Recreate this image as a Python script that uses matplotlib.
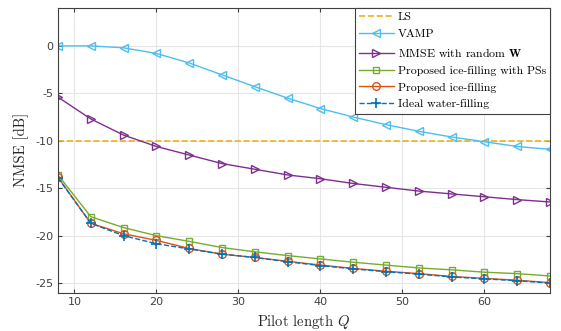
import matplotlib.pyplot as plt
import numpy as np

plt.rcParams['mathtext.fontset'] = 'cm'
plt.rcParams['axes.unicode_minus'] = False

# pilot lengths
Q = [8, 12, 16, 20, 24, 28, 32, 36, 40, 44, 48, 52, 56, 60, 64, 68]

ls_nmse = [-10.0] * len(Q)
vamp = [0.0, 0.0, -0.2, -0.8, -1.8, -3.05, -4.3, -5.5, -6.6, -7.5, -8.3,
        -9.0, -9.6, -10.1, -10.6, -10.9]
mmse_rand = [-5.4, -7.7, -9.4, -10.6, -11.5, -12.4, -13.0, -13.6, -14.0,
             -14.5, -14.9, -15.3, -15.6, -15.9, -16.2, -16.45]
ice_ps = [-13.6, -18.0, -19.15, -20.0, -20.6, -21.25, -21.7, -22.1, -22.45,
          -22.8, -23.1, -23.4, -23.6, -23.85, -24.0, -24.25]
ice = [-13.85, -18.7, -19.8, -20.5, -21.35, -21.95, -22.3, -22.7, -23.1,
       -23.45, -23.75, -24.0, -24.3, -24.5, -24.7, -24.95]
water = [-13.9, -18.7, -20.0, -20.85, -21.4, -21.95, -22.3, -22.75, -23.15,
         -23.5, -23.8, -24.05, -24.35, -24.55, -24.75, -25.0]

fig = plt.figure(figsize=(5.61, 3.31), dpi=100)
ax = fig.add_axes([0.1034, 0.116, 0.877, 0.86])

ax.plot(Q, ls_nmse, '--', color='#EDB120', lw=1.2, label='LS')
ax.plot(Q, vamp, '-', color='#4DBEEE', lw=1.0, marker='<', ms=5.5,
        mfc='none', mew=1.0, label='VAMP')
ax.plot(Q, mmse_rand, '-', color='#7E2F8E', lw=1.0, marker='>', ms=5.5,
        mfc='none', mew=1.0, label=r'MMSE with random $\mathbf{W}$')
ax.plot(Q, ice_ps, '-', color='#77AC30', lw=1.0, marker='s', ms=5,
        mfc='none', mew=1.0, label='Proposed ice-filling with PSs')
ax.plot(Q, ice, '-', color='#D95319', lw=1.0, marker='o', ms=5.5,
        mfc='none', mew=1.0, label='Proposed ice-filling')
ax.plot(Q, water, '--', color='#0072BD', lw=1.0, marker='+', ms=6.5,
        mew=1.2, label='Ideal water-filling')

ax.set_xlim(8, 68)
ax.set_ylim(-26, 4)
ax.set_xticks([10, 20, 30, 40, 50, 60])
ax.set_yticks([-25, -20, -15, -10, -5, 0])
ax.grid(True, color='#e6e6e6', lw=0.8)
ax.set_axisbelow(True)
ax.tick_params(direction='in', length=3, labelsize=8, colors='#404040',
               top=True, right=True)
for s in ax.spines.values():
    s.set_color('#404040')
    s.set_linewidth(0.8)

ax.set_xlabel(r'Pilot length $Q$', family='cmr10', fontsize=10.5, color='#262626')
ax.set_ylabel('NMSE [dB]', family='cmr10', fontsize=10.5, color='#262626')

leg = ax.legend(loc='upper right', prop={'family': 'cmr10', 'size': 8.5},
                fancybox=False, framealpha=1, edgecolor='#404040',
                borderaxespad=0, handlelength=3.0, labelspacing=0.56,
                borderpad=0.35, handletextpad=0.3)
leg.get_frame().set_linewidth(0.8)

fig.savefig('out.png', dpi=100)
